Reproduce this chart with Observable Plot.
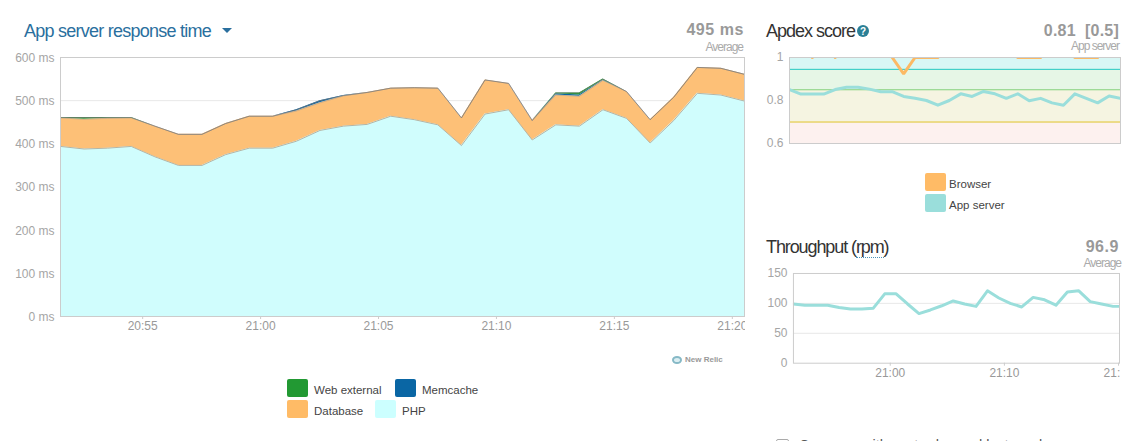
<!DOCTYPE html>
<html><head><meta charset="utf-8">
<script src="https://cdn.jsdelivr.net/npm/d3@7"></script>
<script src="https://cdn.jsdelivr.net/npm/@observablehq/plot@0.6"></script>
<style>
html,body{margin:0;padding:0;background:#fff;width:1134px;height:441px;overflow:hidden;font-family:"Liberation Sans",Arial,sans-serif;}
#root{position:relative;width:1134px;height:441px;overflow:hidden;}
.abs{position:absolute;white-space:nowrap;line-height:1;}
.plot{position:absolute;overflow:hidden;}
.plot svg{display:block;overflow:hidden;background:transparent;}
.title{font-size:18px;color:#333;}
.big{font-size:16px;font-weight:bold;color:#999;letter-spacing:.55px;text-align:right;}
.sub{font-size:12px;color:#aaa;letter-spacing:-1px;text-align:right;}
.sw{position:absolute;width:21px;height:18px;border-radius:2px;}
.lab{position:absolute;font-size:11.5px;color:#444;line-height:1;white-space:nowrap;}
</style></head><body><div id="root"></div>
<script>
const phpValues = [394,388,390,394,370,350,350,375,390,390,406,431,441,445,464,456,444,396,469,479,409,444,441,479,459,402,454,517,513,499];
const databaseValues = [66,69,69,66,71,72,72,72,74,74,70,64,70,74,65,74,85,64,79,61,45,69,69,68,62,54,54,60,62,62];
const memcacheValues = [0,0,0,0,0,0,0,0,0,0,3,5,1,0,0,0,0,0,0,0,0,3,3,1,0,0,0,0,0,0];
const webExternalValues = [1,4,2,1,0,0,0,0,0,0,0,0,0,0,0,0,0,0,0,0,0,2,5,2,0,0,0,0,0,0];
const apdexApp = [.851,.83,.83,.83,.851,.862,.862,.853,.841,.841,.819,.81,.80,.778,.80,.831,.819,.842,.831,.81,.831,.799,.81,.789,.778,.831,.81,.789,.821,.81];
const apdexBrowser = [null,null,1,null,1,null,null,null,null,1,.924,1,1,1,null,null,null,null,null,null,1,1,1,null,null,1,1,1,null,null];
const throughput = [99,97,97,97,93,90.5,90.5,92,116,116,99,83,89,96,104,99,95,121,109,100,94,110,106,97,119,121,103,99,95,95];
const apdexBands = [[.945,1,"#d8f7f5"],[.85,.945,"#e6f6e6"],[.7,.85,"#f5f4e1"],[.6,.7,"#fdf1ef"]];
const apdexRules = [[.945,"#1cc7c2"],[.85,"#80d07c"],[.7,"#dcc322"]];
const mainTicks = ["20:55","21:00","21:05","21:10","21:15","21:20"];
const smallTicks = ["21:00","21:10","21:20"];
const seriesColors = {PHP:"#d0fdfd",Database:"#fdc077",Memcache:"#0a66a4","Web external":"#229933"};

const t0 = Date.UTC(2015,0,1,20,51,31);
const times = phpValues.map((_,i)=>new Date(t0+i*60000));
const T = s => {const [h,m]=s.split(":").map(Number);return new Date(Date.UTC(2015,0,1,h,m));};
const xEnd = new Date(t0+29*60000);
const rows = [];
[["PHP",phpValues],["Database",databaseValues],["Memcache",memcacheValues],["Web external",webExternalValues]]
 .forEach(([s,a])=>a.forEach((v,i)=>rows.push({t:times[i],v,s})));
const dbTop = phpValues.map((v,i)=>v+databaseValues[i]);
const total = dbTop.map((v,i)=>v+memcacheValues[i]+webExternalValues[i]);
const fmt = d3.utcFormat("%H:%M");
const axisStyle = {fontFamily:"'Liberation Sans',Arial,sans-serif",fontSize:"12px",background:"transparent"};
const root = document.getElementById("root");
function place(svg,l,t,w,h){const d=document.createElement("div");d.className="plot";d.style.cssText=`left:${l}px;top:${t}px;width:${w}px;height:${h}px`;d.appendChild(svg);root.appendChild(d);}
function txt(cls,s,css){const d=document.createElement("div");d.className="abs "+cls;d.innerHTML=s;d.style.cssText+=css;root.appendChild(d);return d;}

place(Plot.plot({
  width:745,height:299,marginLeft:60,marginRight:1,marginTop:10,marginBottom:30,style:axisStyle,
  x:{type:"utc",domain:[new Date(t0),xEnd]},
  y:{domain:[0,600]},
  color:{domain:Object.keys(seriesColors),range:Object.values(seriesColors)},
  marks:[
    Plot.gridY([100,200,300,400,500],{stroke:"#e8e8e8",strokeOpacity:1}),
    Plot.areaY(rows,{x:"t",y:"v",fill:"s",z:"s",order:Object.keys(seriesColors),curve:"linear"}),
    Plot.line(times,{x:d=>d,y:(d,i)=>phpValues[i],stroke:"#b5b5a5",strokeWidth:1}),
    Plot.line(times,{x:d=>d,y:(d,i)=>dbTop[i],stroke:"#999",strokeWidth:.5}),
    Plot.line(times,{x:d=>d,y:(d,i)=>total[i],stroke:"#777",strokeWidth:.7}),
    Plot.frame({stroke:"#ccc",strokeWidth:1}),
    Plot.axisY({ticks:[0,100,200,300,400,500,600],tickFormat:d=>d+" ms",tickSize:0,tickPadding:6,fill:"#a5a5a5",label:null,dy:0.5}),
    Plot.axisX({ticks:mainTicks.map(T),tickFormat:fmt,tickSize:3,tickPadding:2,stroke:"#ccc",fill:"#999",label:null})
  ]}),0,47,745,299);

place(Plot.plot({
  width:355,height:106,marginLeft:23,marginRight:1,marginTop:10,marginBottom:10,style:axisStyle,
  x:{type:"utc",domain:[new Date(t0),xEnd],axis:null},
  y:{domain:[.6,1]},
  marks:[
    ...apdexBands.map(b=>Plot.rect([b],{x1:new Date(t0),x2:xEnd,y1:d=>d[0],y2:d=>d[1],fill:b[2]})),
    ...apdexRules.map(r=>Plot.ruleY([r[0]],{stroke:r[1],strokeWidth:1})),
    Plot.line(times,{x:d=>d,y:(d,i)=>apdexBrowser[i],stroke:"#fcb964",strokeWidth:3,clip:true,strokeLinejoin:"miter"}),
    Plot.line(times,{x:d=>d,y:(d,i)=>apdexApp[i],stroke:"#9adedb",strokeWidth:3,clip:true}),
    Plot.frame({stroke:"#ccc",strokeWidth:1}),
    Plot.axisY({ticks:[.6,.8,1],tickFormat:d=>String(d),tickSize:0,tickPadding:6,fill:"#a5a5a5",label:null})
  ]}),766,47,355,106);

place(Plot.plot({
  width:355,height:120,marginLeft:27,marginRight:1,marginTop:10,marginBottom:20,style:axisStyle,
  x:{type:"utc",domain:[new Date(t0),new Date(Date.UTC(2015,0,1,21,20,5))]},
  y:{domain:[0,150]},
  marks:[
    Plot.gridY([50,100],{stroke:"#e8e8e8",strokeOpacity:1}),
    Plot.line(times,{x:d=>d,y:(d,i)=>throughput[i],stroke:"#9adedb",strokeWidth:3,clip:true}),
    Plot.frame({stroke:"#ccc",strokeWidth:1}),
    Plot.axisY({ticks:[0,50,100,150],tickSize:0,tickPadding:6,fill:"#a5a5a5",label:null}),
    Plot.axisX({ticks:smallTicks.map(T),tickFormat:fmt,tickSize:3,tickPadding:2,stroke:"#ccc",fill:"#999",label:null})
  ]}),766,263,354,120);

txt("title","App server response time","left:24px;top:22px;color:#2a6f9e;letter-spacing:-.75px;");
const caret=document.createElementNS("http://www.w3.org/2000/svg","svg");
caret.setAttribute("width","12");caret.setAttribute("height","8");caret.style.cssText="position:absolute;left:222px;top:28px;";
caret.innerHTML='<path d="M0 0H10L5 5Z" fill="#2a6f9e"/>';root.appendChild(caret);
txt("big","495 ms","right:390px;top:22px;");
txt("sub","Average","right:391px;top:41px;");
txt("title","Apdex score","left:766px;top:22px;letter-spacing:-1px;");
const help=document.createElementNS("http://www.w3.org/2000/svg","svg");
help.setAttribute("width","14");help.setAttribute("height","14");help.style.cssText="position:absolute;left:856px;top:24px;";
help.innerHTML='<circle cx="7" cy="7" r="6" fill="#2a7f96"/><text x="7" y="10.5" text-anchor="middle" font-size="10" font-weight="bold" fill="#fff" font-family="Liberation Sans">?</text>';root.appendChild(help);
txt("big","0.81&nbsp; [0.5]","right:15px;top:23px;letter-spacing:.2px;");
txt("sub","App server","right:15px;top:40px;");
txt("title",'Throughput (<span style="border-bottom:1px dotted #4a90b8;">rpm</span>)',"left:766px;top:238px;letter-spacing:-1.1px;");
txt("big","96.9","right:15px;top:239px;");
txt("sub","Average","right:13px;top:257px;");

[["Web external",287,379,"#229933",314],["Memcache",395,379,"#0a66a4",422],["Database",287,400,"#ffbb66",314],["PHP",375,400,"#ccffff",402],
 ["Browser",925,173,"#ffbb66",949],["App server",925,194,"#9adedb",949]].forEach(([n,x,y,c,lx])=>{
  const s=document.createElement("div");s.className="sw";s.style.cssText=`left:${x}px;top:${y}px;background:${c}`;root.appendChild(s);
  const l=document.createElement("div");l.className="lab";l.textContent=n;l.style.cssText=`left:${lx}px;top:${y+6}px`;root.appendChild(l);
});
const logo=document.createElementNS("http://www.w3.org/2000/svg","svg");
logo.setAttribute("width","12");logo.setAttribute("height","10");logo.style.cssText="position:absolute;left:671px;top:355px;";
logo.innerHTML='<ellipse cx="6" cy="5" rx="4" ry="3" fill="#dbeef2" stroke="#86b9c6" stroke-width="2"/>';root.appendChild(logo);
txt("","New Relic","left:685px;top:356px;font-size:8px;font-weight:bold;color:#999;");
const cb=document.createElement("div");cb.style.cssText="position:absolute;left:776px;top:439px;width:11px;height:11px;border:1px solid #aaa;border-radius:2px;";root.appendChild(cb);
txt("",'Compare with yesterday and last week',"left:799px;top:438px;font-size:14.4px;color:#555;");
</script></body></html>
